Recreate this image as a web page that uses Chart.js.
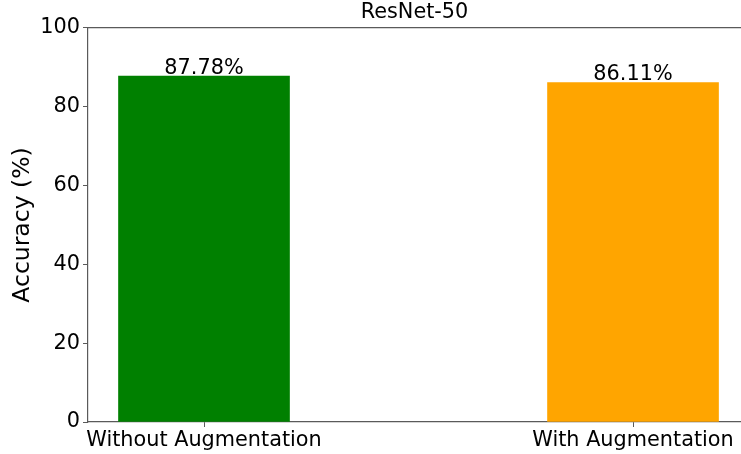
<!DOCTYPE html>
<html>
<head>
<meta charset="utf-8">
<script src="https://cdn.jsdelivr.net/npm/chart.js@4"></script>
<style>
html,body{margin:0;padding:0;background:#fff;overflow:hidden;}
#wrap{width:741px;height:454px;}
</style>
</head>
<body>
<div id="wrap"><canvas id="c" width="741" height="454"></canvas></div>
<script>
const categories = ["Without Augmentation", "With Augmentation"];
const categoryPositions = [0, 1];
const accuracyValues = [87.78, 86.11];
const barColors = ["#008000", "#FFA500"];
const yTicks = [0, 20, 40, 60, 80, 100];
const chartTitle = "ResNet-50";
const yAxisTitle = "Accuracy (%)";

const FONT = "'DejaVu Sans', sans-serif";
const spineColor = "#5a5a5a";

const barLabels = {
  id: 'barLabels',
  afterDatasetsDraw(chart) {
    const ctx = chart.ctx;
    const meta = chart.getDatasetMeta(0);
    ctx.save();
    ctx.font = "20.8px " + FONT;
    ctx.fillStyle = "#000";
    ctx.textAlign = "center";
    ctx.textBaseline = "alphabetic";
    meta.data.forEach((el, i) => {
      ctx.fillText(accuracyValues[i].toFixed(2) + "%", el.x, el.y - 2.5);
    });
    ctx.restore();
  }
};

new Chart(document.getElementById('c'), {
  type: 'bar',
  data: {
    datasets: [{
      data: categoryPositions.map((x, i) => ({x: x, y: accuracyValues[i]})),
      backgroundColor: barColors,
      borderWidth: 0,
      barThickness: 171
    }]
  },
  options: {
    responsive: false,
    animation: false,
    layout: {padding: 0},
    plugins: {
      legend: {display: false},
      tooltip: {enabled: false},
      title: {
        display: true,
        text: chartTitle,
        fullSize: false,
        color: "#000",
        font: {family: FONT, size: 20.8, weight: 'normal'},
        padding: {top: 0, bottom: 3}
      }
    },
    scales: {
      x: {
        type: 'linear',
        offset: false,
        min: -0.2704,
        max: 1.2517,
        afterBuildTicks(scale) { scale.ticks = categoryPositions.map(v => ({value: v})); },
        afterFit(scale) { scale.height = 32; },
        ticks: {
          color: "#000",
          font: {family: FONT, size: 20.8},
          padding: 1,
          maxRotation: 0,
          autoSkip: false,
          callback: (v) => categories[categoryPositions.indexOf(v)]
        },
        grid: {offset: false, drawOnChartArea: false, drawTicks: true, tickLength: 5, color: spineColor, lineWidth: 1},
        border: {display: true, color: spineColor, width: 1.2}
      },
      x2: {
        type: 'linear',
        position: 'top',
        offset: false,
        min: 0, max: 1,
        afterFit(scale) { scale.height = 0; },
        ticks: {display: false},
        grid: {display: false, drawTicks: false},
        border: {display: true, color: spineColor, width: 1.2}
      },
      y: {
        min: 0,
        max: 100,
        afterBuildTicks(scale) { scale.ticks = yTicks.map(v => ({value: v})); },
        afterFit(scale) { scale.width = 88; },
        ticks: {
          color: "#000",
          font: {family: FONT, size: 20.8},
          padding: 3
        },
        grid: {drawOnChartArea: false, drawTicks: true, tickLength: 5, color: spineColor, lineWidth: 1},
        border: {display: true, color: spineColor, width: 1.2},
        title: {
          display: true,
          text: yAxisTitle,
          color: "#000",
          font: {family: FONT, size: 23.5, weight: 'normal'},
          padding: {top: 9, bottom: 0}
        }
      }
    }
  },
  plugins: [barLabels]
});
</script>
</body>
</html>
